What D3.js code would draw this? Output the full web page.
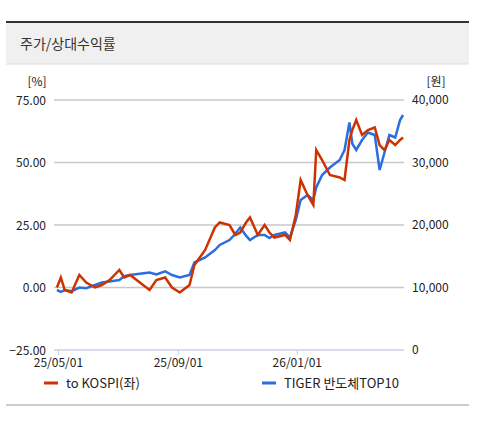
<!DOCTYPE html>
<html><head><meta charset="utf-8">
<script src="https://cdn.jsdelivr.net/npm/d3@7"></script>
<style>body{margin:0;background:#fff;font-family:"Noto Sans CJK KR","Noto Sans",sans-serif;}</style>
</head><body>
<svg id="chart" width="478" height="425"></svg>
<script>
const dates = ["2025-04-30","2025-05-04","2025-05-08","2025-05-15","2025-05-23","2025-05-30","2025-06-08","2025-06-15","2025-06-23","2025-07-03","2025-07-08","2025-07-14","2025-07-24","2025-08-03","2025-08-10","2025-08-19","2025-08-26","2025-09-03","2025-09-13","2025-09-18","2025-09-29","2025-10-09","2025-10-14","2025-10-24","2025-10-30","2025-11-04","2025-11-10","2025-11-14","2025-11-22","2025-11-29","2025-12-04","2025-12-09","2025-12-20","2025-12-25","2025-12-31","2026-01-05","2026-01-12","2026-01-18","2026-01-21","2026-01-27","2026-02-04","2026-02-14","2026-02-19","2026-02-24","2026-02-27","2026-03-03","2026-03-09","2026-03-15","2026-03-22","2026-03-27","2026-04-01","2026-04-06","2026-04-12","2026-04-17","2026-04-20"];
const relKospi = [0,4,-1,-2,5,2,0,1,3,7,4,5,2,-1,3,4,0,-2,1,9,15,24,26,25,21,22,26,28,21,25,22,20,21,19,29,43,37,33,55,51,45,44,43,59,63,67,61,63,64,57,55,59,57,59,60];
const tigerPrice = [9600,9300,9600,9400,10000,9900,10400,10800,10960,11200,11800,12000,12200,12400,12100,12600,12000,11600,12000,14000,14800,16000,16800,17600,18600,19600,18300,17600,18400,18400,17900,18400,18800,18000,20800,24000,24800,24000,26000,28000,29200,30400,32000,36400,33000,32000,33600,34800,34400,28800,31600,34400,34000,36800,37600];
const leftTicks = [75,50,25,0,-25];
const rightTicks = [40000,30000,20000,10000,0];
const xTicks = ["2025-05-01","2025-09-01","2026-01-01"];
const series = ["to KOSPI(좌)","TIGER 반도체TOP10"];

const svg = d3.select("#chart");
const parse = d3.timeParse("%Y-%m-%d");
const font = '"Noto Sans CJK KR","Noto Sans",sans-serif';

// header
svg.append("rect").attr("x",6).attr("y",22).attr("width",463).attr("height",42).attr("fill","#f0f0f0");
svg.append("line").attr("x1",6).attr("x2",469).attr("y1",22).attr("y2",22).attr("stroke","#333").attr("stroke-width",2);
svg.append("line").attr("x1",6).attr("x2",469).attr("y1",64).attr("y2",64).attr("stroke","#ddd");
svg.append("text").attr("x",20).attr("y",49).text("주가/상대수익률").attr("font-size",14).attr("fill","#333").attr("font-family",font);

const x = d3.scaleTime().domain([parse("2025-04-28"), parse("2026-04-21")]).range([55, 404]);
const yL = d3.scaleLinear().domain([-25,75]).range([350,100]);
const yR = d3.scaleLinear().domain([0,40000]).range([350,100]);

svg.append("g").selectAll("line").data(leftTicks.slice(0,4)).join("line")
  .attr("x1",54).attr("x2",404).attr("y1",d=>yL(d)).attr("y2",d=>yL(d))
  .attr("stroke","#c8c8c8").attr("stroke-width",1.5);
svg.append("line").attr("x1",54).attr("x2",404).attr("y1",350).attr("y2",350).attr("stroke","#c8d0e0").attr("stroke-width",1.5);

const axL = svg.append("g").attr("transform","translate(46,0)")
  .call(d3.axisLeft(yL).tickValues(leftTicks).tickFormat(d3.format(".2f")).tickSize(0));
const axR = svg.append("g").attr("transform","translate(412,0)")
  .call(d3.axisRight(yR).tickValues(rightTicks).tickFormat(d3.format(",")).tickSize(0));
const axX = svg.append("g").attr("transform","translate(0,350)")
  .call(d3.axisBottom(x).tickValues(xTicks.map(parse)).tickFormat(d3.timeFormat("%y/%m/%d")).tickSize(5));
[axL,axR,axX].forEach(a=>{
  a.select(".domain").remove();
  a.selectAll("text").attr("font-size",12).attr("fill","#222").attr("font-family",font);
  a.selectAll("line").attr("stroke","#c8d0e0");
});
axL.selectAll("text").attr("dy","0.35em").attr("x",0);
axR.selectAll("text").attr("x",0);
axX.selectAll("text").attr("y",8).attr("dy","0.75em");

svg.append("text").attr("x",37).attr("y",86).attr("text-anchor","middle").text("[%]").attr("font-size",12).attr("font-family",font).attr("fill","#222");
svg.append("text").attr("x",436).attr("y",86).attr("text-anchor","middle").text("[원]").attr("font-size",12).attr("font-family",font).attr("fill","#222");

const pts = dates.map((d,i)=>({d:parse(d), r:relKospi[i], p:tigerPrice[i]}));
svg.append("path").datum(pts).attr("fill","none").attr("stroke","#2b6fdf").attr("stroke-width",2.5)
  .attr("d", d3.line().x(d=>x(d.d)).y(d=>yR(d.p)));
svg.append("path").datum(pts).attr("fill","none").attr("stroke","#cc3300").attr("stroke-width",2.5)
  .attr("d", d3.line().x(d=>x(d.d)).y(d=>yL(d.r)));

// legend
const leg = [{x:44,c:"#cc3300"},{x:262,c:"#2b6fdf"}];
leg.forEach((l,i)=>{
  svg.append("line").attr("x1",l.x).attr("x2",l.x+14).attr("y1",383).attr("y2",383).attr("stroke",l.c).attr("stroke-width",3);
  svg.append("text").attr("x",l.x+22).attr("y",388).text(series[i]).attr("font-size",13).attr("font-family",font).attr("fill","#222");
});
svg.append("line").attr("x1",6).attr("x2",469).attr("y1",405).attr("y2",405).attr("stroke","#bbb").attr("stroke-width",1.5);
</script>
</body></html>
